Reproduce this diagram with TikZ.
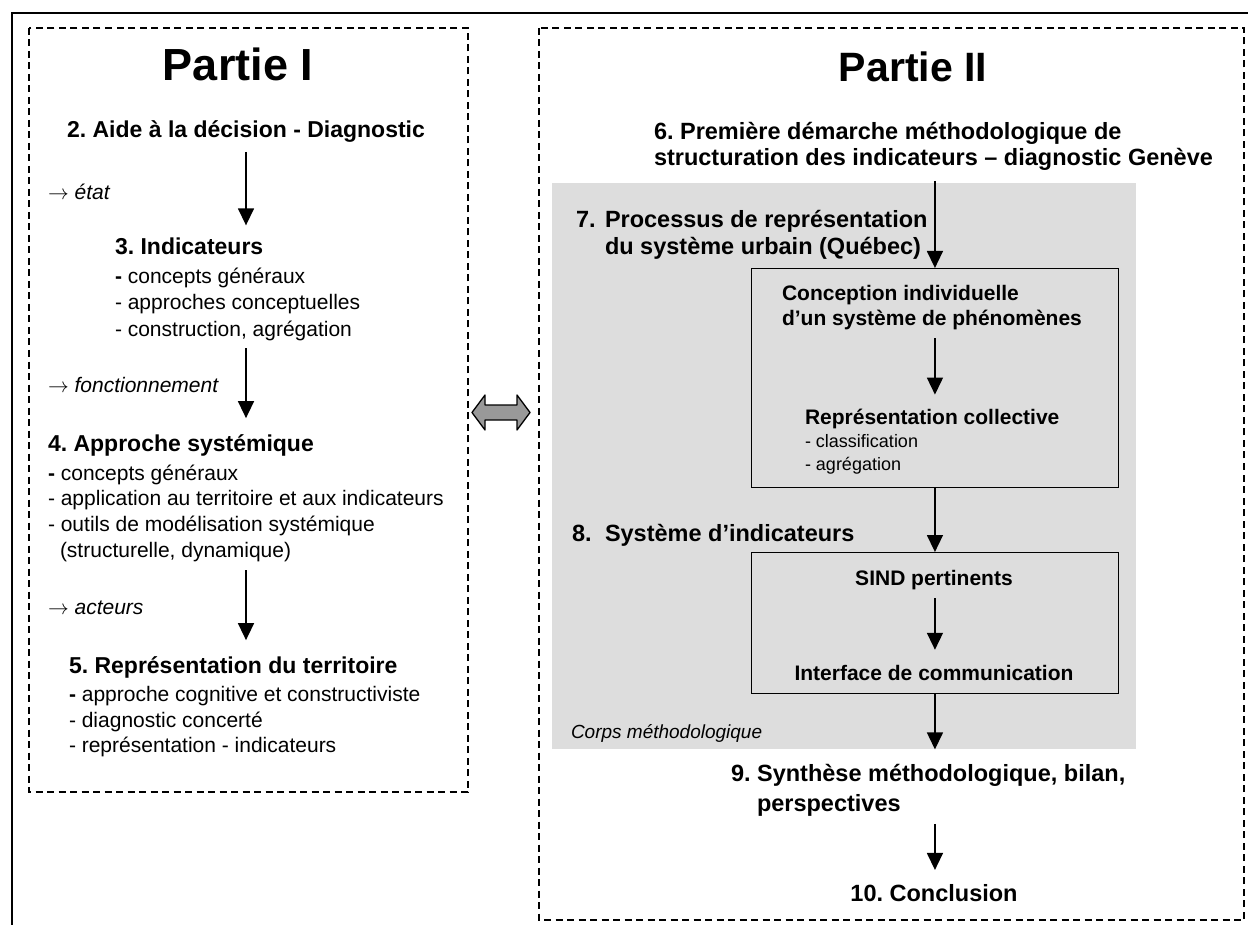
\documentclass[tikz,border=0pt]{standalone}
\usepackage{fontspec}
\setmainfont{Liberation Sans}
\usetikzlibrary{arrows.meta}
\newcommand\pxsize[1]{\fontsize{#1pt}{#1pt}\selectfont}
\definecolor{panelgray}{HTML}{DDDDDD}
\definecolor{linkgray}{HTML}{999999}

\begin{document}
\frenchspacing
\begin{tikzpicture}[x=1pt,y=-1pt,
  lbl/.style={inner sep=0pt, outer sep=0pt},
  bigtitle/.style={lbl, font=\pxsize{45}\bfseries},
  head/.style={lbl, font=\pxsize{23}\bfseries},
  rhead/.style={lbl, font=\pxsize{23.5}\bfseries},
  body/.style={lbl, font=\pxsize{21}},
  inbold/.style={lbl, font=\pxsize{21}\bfseries},
  small/.style={lbl, font=\pxsize{18}},
  arr/.style={line width=1.5pt, -{Triangle[length=17pt,width=16pt]}},
  dashbox/.style={line width=2pt, dash pattern=on 7pt off 4.5pt},
  innerbox/.style={draw, line width=1.4pt, inner sep=0pt, anchor=north west}
]
\useasboundingbox (0,0) rectangle (1248,925);

% outer frame (top and left edges only)
\draw[line width=2.7pt] (12,935) -- (12,13) -- (1260,13);

% part frames
\draw[dashbox] (29,28) rectangle (468,792);
\draw[dashbox] (539,28) rectangle (1244,920);

% ---------------- Partie I ----------------
\node[bigtitle, anchor=base] (t1) at (238,81) {Partie I};
\node[head, anchor=base] (h2) at (246,138) {2. Aide à la décision - Diagnostic};
\node[body, anchor=base west] (l1) at (48,200) {$\rightarrow$ \textit{état}};
\node[head, anchor=base west] (h3) at (115,255) {3. Indicateurs};
\node[body, anchor=base west] (i3a) at (115,284) {\textbf{-} concepts généraux};
\node[body, anchor=base west] (i3b) at (115,310) {- approches conceptuelles};
\node[body, anchor=base west] (i3c) at (115,337) {- construction, agrégation};
\node[body, anchor=base west] (l2) at (48,392) {$\rightarrow$ \textit{fonctionnement}};
\node[head, anchor=base west] (h4) at (48,451) {4. Approche systémique};
\node[body, anchor=base west] (i4a) at (48,480) {\textbf{-} concepts généraux};
\node[body, anchor=base west] (i4b) at (48,505) {- application au territoire et aux indicateurs};
\node[body, anchor=base west] (i4c) at (48,531) {- outils de modélisation systémique};
\node[body, anchor=base west] (i4d) at (60,557) {(structurelle, dynamique)};
\node[body, anchor=base west] (l3) at (48,614) {$\rightarrow$ \textit{acteurs}};
\node[head, anchor=base west] (h5) at (69,673) {5. Représentation du territoire};
\node[body, anchor=base west] (i5a) at (69,701) {\textbf{-} approche cognitive et constructiviste};
\node[body, anchor=base west] (i5b) at (69,727) {- diagnostic concerté};
\node[body, anchor=base west] (i5c) at (69,752) {- représentation - indicateurs};

\draw[arr, shorten <=9pt, shorten >=13pt] (h2.south) -- (h2.south |- h3.north);
\draw[arr, shorten <=7pt, shorten >=16pt] (h2.south |- i3c.south) -- (h2.south |- h4.north);
\draw[arr, shorten <=9pt, shorten >=16pt] (h2.south |- i4d.south) -- (h2.south |- h5.north);

% link between the two parts
\draw[line width=1.3pt, fill=linkgray, line join=round]
  (472,412.5) -- (485,395) -- (485,405) -- (517,405) -- (517,395) -- (530,412.5)
  -- (517,430) -- (517,420) -- (485,420) -- (485,430) -- cycle;

% ---------------- Partie II ----------------
\node[lbl, font=\pxsize{41}\bfseries, anchor=base] (t2) at (913,82) {Partie II};
\node[rhead, anchor=base west] (h6a) at (654,140) {6. Première démarche méthodologique de};
\node[rhead, anchor=base west] (h6b) at (654,166) {structuration des indicateurs – diagnostic Genève};

\node[fill=panelgray, inner sep=0pt, minimum width=584pt, minimum height=566pt, anchor=north west] (panel) at (552,183) {};

\node[rhead, anchor=base west] (n7) at (576,228) {7.};
\node[rhead, anchor=base west] (h7a) at (605,228) {Processus de représentation};
\node[rhead, anchor=base west] (h7b) at (605,255) {du système urbain (Québec)};

\node[innerbox, minimum width=367.5pt, minimum height=219pt] (box1) at (750.5,268) {};
\node[inbold, anchor=base west] (c1a) at (782,301) {Conception individuelle};
\node[inbold, anchor=base west] (c1b) at (782,326) {d’un système de phénomènes};
\node[inbold, anchor=base west] (c2) at (805,424) {Représentation collective};
\node[small, anchor=base west] (c2a) at (805,447) {- classification};
\node[small, anchor=base west] (c2b) at (805,470) {- agrégation};

\node[rhead, anchor=base west] (n8) at (572,541) {8.};
\node[rhead, anchor=base west] (h8) at (605,541) {Système d’indicateurs};

\node[innerbox, minimum width=367.5pt, minimum height=141pt] (box2) at (750.5,552) {};
\node[inbold, anchor=base] (s1) at (934,585) {SIND pertinents};
\node[inbold, anchor=base] (s2) at (934,680) {Interface de communication};

\node[lbl, font=\pxsize{19}\itshape, anchor=base west] (corps) at (571,738) {Corps méthodologique};

\node[rhead, anchor=base west] (h9a) at (731,781) {9. Synthèse méthodologique, bilan,};
\node[rhead, anchor=base west] (h9b) at (757,811) {perspectives};
\node[rhead, anchor=base] (h10) at (934,901) {10. Conclusion};

\draw[arr, shorten <=10pt] (box1.north |- h6b.south) -- (box1.north);
\draw[arr, shorten <=8pt, shorten >=14pt] (box1.north |- c1b.south) -- (box1.north |- c2.north);
\draw[arr] (box1.south) -- (box2.north);
\draw[arr, shorten <=9pt, shorten >=15pt] (box2.north |- s1.south) -- (box2.north |- s2.north);
\draw[arr] (box2.south) -- (box2.south |- panel.south);
\draw[arr, shorten <=8pt, shorten >=14pt] (box2.north |- h9b.south) -- (box2.north |- h10.north);
\end{tikzpicture}
\end{document}
